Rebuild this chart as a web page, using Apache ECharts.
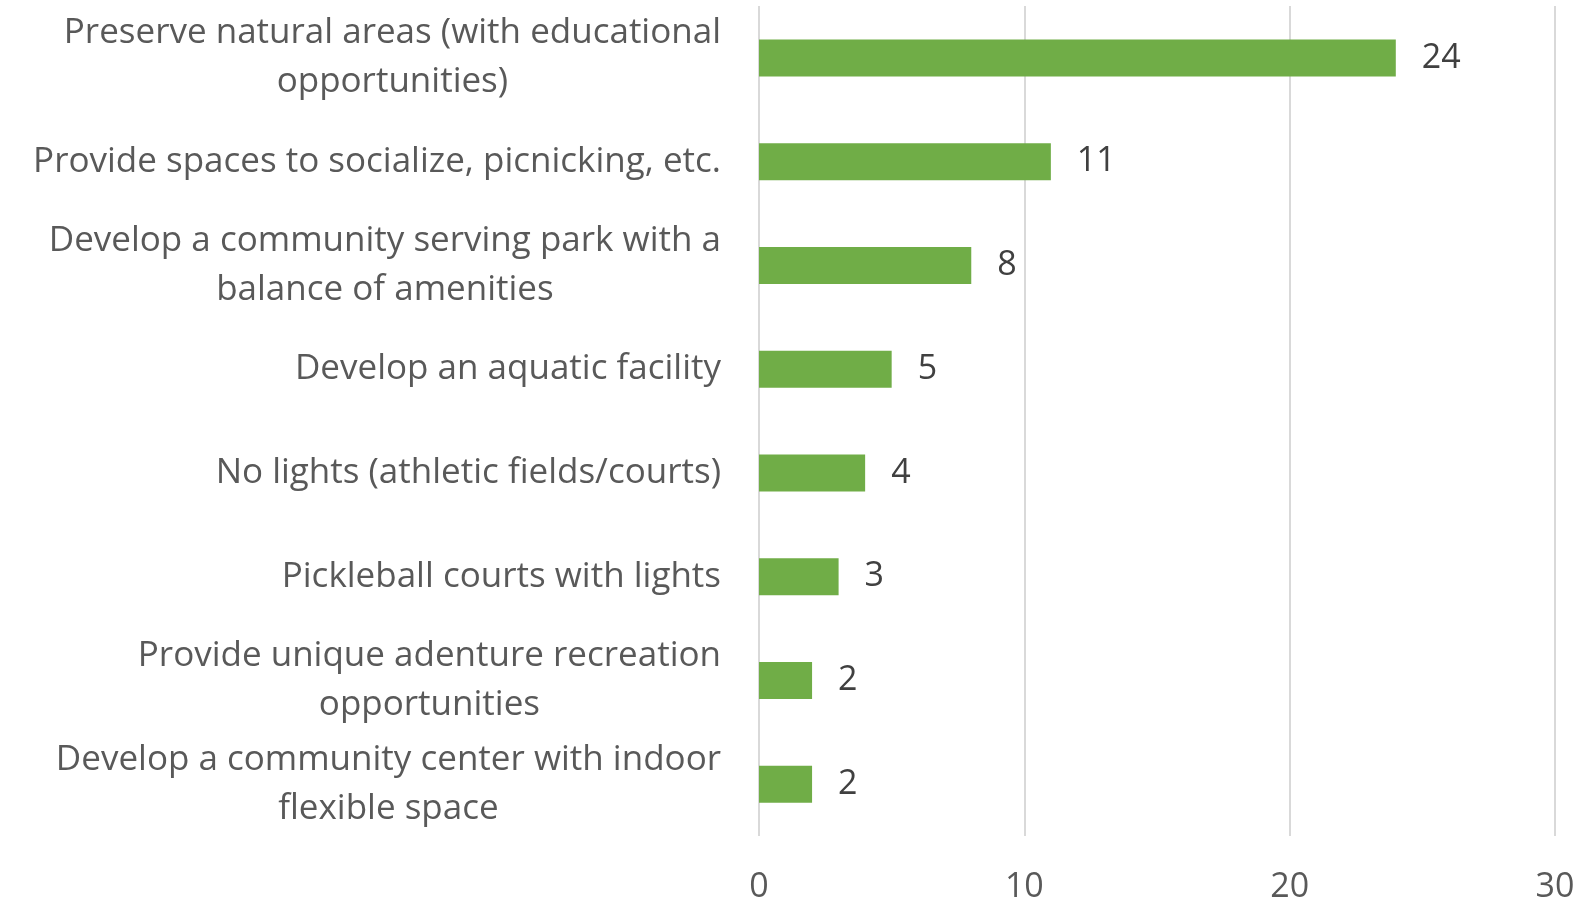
<!DOCTYPE html>
<html>
<head>
<meta charset="utf-8">
<script src="https://cdn.jsdelivr.net/npm/echarts@6/dist/echarts.min.js"></script>
<style>
  html, body { margin: 0; padding: 0; background: #fff; }
  #chart-container { width: 1596px; height: 904px; }
</style>
</head>
<body>
<div id="chart-container"></div>
<script>
var categories = [
  'Preserve natural areas (with educational\nopportunities)',
  'Provide spaces to socialize, picnicking, etc.',
  'Develop a community serving park with a\nbalance of amenities',
  'Develop an aquatic facility',
  'No lights (athletic fields/courts)',
  'Pickleball courts with lights',
  'Provide unique adenture recreation\nopportunities',
  'Develop a community center with indoor\nflexible space'
];
var values = [24, 11, 8, 5, 4, 3, 2, 2];
var xTicks = [0, 10, 20, 30];

var dom = document.getElementById('chart-container');
var myChart = echarts.init(dom, null, { renderer: 'canvas' });

var font = 'Open Sans';

var option = {
  animation: false,
  grid: { left: 759, right: 41, top: 6, bottom: 64 },
  xAxis: {
    type: 'value',
    min: xTicks[0],
    max: xTicks[xTicks.length - 1],
    interval: 10,
    axisLine: { show: false },
    axisTick: { show: false },
    splitLine: { lineStyle: { color: '#d9d9d9', width: 2 } },
    axisLabel: {
      margin: 34,
      fontFamily: font,
      fontSize: 34,
      color: '#595959'
    }
  },
  yAxis: {
    type: 'category',
    inverse: true,
    data: categories,
    axisLine: { show: false },
    axisTick: { show: false },
    axisLabel: {
      margin: 38,
      align: 'right',
      // each line centred inside the label block, block right-aligned
      formatter: function (v) {
        return v.split('\n').map(function (s) { return '{c|' + s + '}'; }).join('\n');
      },
      rich: {
        c: {
          align: 'center',
          fontFamily: font,
          fontSize: 35,
          lineHeight: 49,
          color: '#595959'
        }
      }
    }
  },
  series: [
    {
      type: 'bar',
      data: values,
      barWidth: 37,
      itemStyle: { color: '#70ad47' },
      label: {
        show: true,
        position: 'right',
        distance: 26,
        fontFamily: font,
        fontSize: 34,
        color: '#404040'
      }
    }
  ]
};

myChart.setOption(option);
window.addEventListener('resize', myChart.resize);
</script>
</body>
</html>
